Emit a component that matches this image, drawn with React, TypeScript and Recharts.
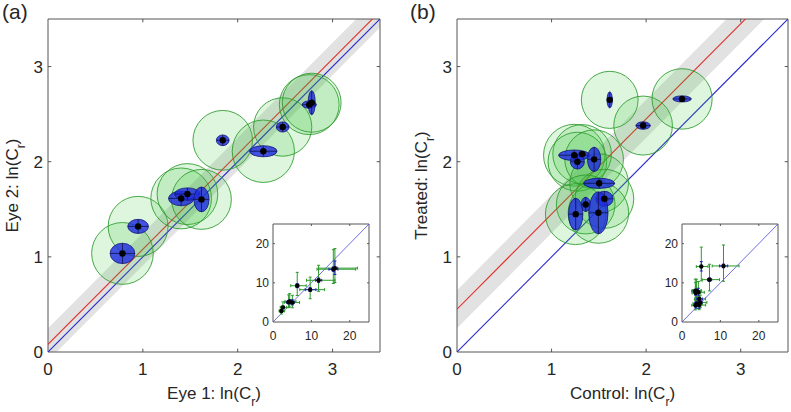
import React from 'react';
import {
  ComposedChart,
  Scatter,
  Line,
  Area,
  XAxis,
  YAxis,
  ReferenceLine,
  ReferenceArea,
  ErrorBar,
} from 'recharts';

const FONT = '"Liberation Sans", Arial, Helvetica, sans-serif';
const TEXT = '#262626';
const AXIS = '#555555';
const GREEN_FILL = '#30c030';
const GREEN_LINE = '#2a9a2a';
const BLUE_FILL = '#1e2de0';
const RED = '#e0302a';
const BLUE = '#2a2ad0';

// ---------- Panel (a): Eye 1 vs Eye 2, ln(C_r) ----------
const aLnX = [0.785, 0.95, 1.404, 1.47, 1.618, 1.842, 2.27, 2.474, 2.754, 2.78];
const aLnY = [1.036, 1.32, 1.614, 1.66, 1.604, 2.225, 2.11, 2.365, 2.6, 2.62];
const aSdX = [0.13, 0.109, 0.133, 0.135, 0.08, 0.067, 0.144, 0.067, 0.075, 0.037];
const aSdY = [0.107, 0.074, 0.077, 0.065, 0.13, 0.056, 0.058, 0.053, 0.039, 0.126];
const aRad = [0.325, 0.316, 0.32, 0.32, 0.315, 0.314, 0.328, 0.307, 0.315, 0.31];
const aFitY = [0.08, 3.58];
const aBandLo = [-0.09, 3.41];
const aBandHi = [0.25, 3.75];

// ---------- Panel (b): Control vs Treated, ln(C_r) ----------
const bLnX = [1.615, 1.968, 2.38, 1.24, 1.323, 1.273, 1.45, 1.503, 1.559, 1.361, 1.255, 1.495];
const bLnY = [2.65, 2.38, 2.66, 2.068, 2.08, 2.0, 2.025, 1.773, 1.61, 1.551, 1.449, 1.463];
const bSdX = [0.028, 0.076, 0.097, 0.165, 0.035, 0.074, 0.07, 0.164, 0.092, 0.049, 0.076, 0.102];
const bSdY = [0.084, 0.039, 0.032, 0.055, 0.03, 0.077, 0.128, 0.053, 0.079, 0.075, 0.167, 0.22];
const bRad = [0.3, 0.31, 0.318, 0.325, 0.31, 0.31, 0.31, 0.31, 0.31, 0.31, 0.32, 0.32];
const bFitY = [0.45, 3.95];
const bBandLo = [0.25, 3.75];
const bBandHi = [0.65, 4.15];

const fitX = [0, 3.5];
const mainDomain = [0, 3.5];
const mainTicks = [0, 1, 2, 3];
const insetDomain = [0, 25];
const insetTicks = [0, 10, 20];

function tickMarks(ticks: number[], max: number, len: number, prefix: string) {
  const out: React.ReactNode[] = [];
  ticks
    .filter((t) => t > 0)
    .forEach((t) => {
      out.push(
        <ReferenceLine key={prefix + 'b' + t} segment={[{ x: t, y: 0 }, { x: t, y: len }]} stroke={AXIS} strokeWidth={1} />,
        <ReferenceLine key={prefix + 't' + t} segment={[{ x: t, y: max }, { x: t, y: max - len }]} stroke={AXIS} strokeWidth={1} />,
        <ReferenceLine key={prefix + 'l' + t} segment={[{ x: 0, y: t }, { x: len, y: t }]} stroke={AXIS} strokeWidth={1} />,
        <ReferenceLine key={prefix + 'r' + t} segment={[{ x: max, y: t }, { x: max - len, y: t }]} stroke={AXIS} strokeWidth={1} />
      );
    });
  return out;
}

type PanelProps = {
  left: number;
  width: number;
  right: number;
  lnX: number[];
  lnY: number[];
  sdX: number[];
  sdY: number[];
  rad: number[];
  fitY: number[];
  bandLo: number[];
  bandHi: number[];
};

const H = 412;
const TOP = 19;
const XH = 60;
const YW = 48;

function Panel({ left, width, right, lnX, lnY, sdX, sdY, rad, fitY, bandLo, bandHi }: PanelProps) {
  const plotW = width - YW - right;
  const plotH = H - TOP - XH;
  const kx = plotW / (mainDomain[1] - mainDomain[0]);
  const ky = plotH / (mainDomain[1] - mainDomain[0]);
  const pts = lnX.map((x, i) => ({ x, y: lnY[i], sx: sdX[i], sy: sdY[i], r: rad[i] }));
  const band = fitX.map((x, i) => ({ x, band: [bandLo[i], bandHi[i]] }));
  const fit = fitX.map((x, i) => ({ x, y: fitY[i] }));
  const ident = fitX.map((x) => ({ x, y: x }));

  const circleShape = (p: any) => {
    const { cx, cy, payload } = p;
    if (cx == null || cy == null) return <g />;
    return (
      <ellipse
        cx={cx}
        cy={cy}
        rx={payload.r * kx}
        ry={payload.r * ky}
        fill={GREEN_FILL}
        fillOpacity={0.16}
        stroke={GREEN_LINE}
        strokeOpacity={0.85}
        strokeWidth={1}
      />
    );
  };
  const ellipseShape = (p: any) => {
    const { cx, cy, payload } = p;
    if (cx == null || cy == null) return <g />;
    const rx = payload.sx * kx;
    const ry = payload.sy * ky;
    return (
      <g>
        <ellipse cx={cx} cy={cy} rx={rx} ry={ry} fill={BLUE_FILL} fillOpacity={0.82} stroke="#14147a" strokeWidth={0.8} />
        <line x1={cx - rx} x2={cx + rx} y1={cy} y2={cy} stroke="#10104a" strokeWidth={0.8} />
        <line x1={cx} x2={cx} y1={cy - ry} y2={cy + ry} stroke="#10104a" strokeWidth={0.8} />
      </g>
    );
  };
  const dotShape = (p: any) => {
    const { cx, cy } = p;
    if (cx == null || cy == null) return <g />;
    return <circle cx={cx} cy={cy} r={3.2} fill="#000" />;
  };

  return (
    <div style={{ position: 'absolute', left, top: 0 }}>
      <ComposedChart width={width} height={H} margin={{ top: TOP, right, bottom: 0, left: 0 }}>
        <XAxis
          type="number"
          dataKey="x"
          domain={mainDomain}
          ticks={mainTicks}
          allowDataOverflow
          height={XH}
          tickLine={false}
          axisLine={false}
          tickSize={0}
          tickMargin={11}
          tick={{ fontSize: 17, fill: TEXT, fontFamily: FONT }}
        />
        <YAxis
          type="number"
          dataKey="y"
          domain={mainDomain}
          ticks={mainTicks}
          allowDataOverflow
          width={YW}
          tickLine={false}
          axisLine={false}
          tickSize={0}
          tickMargin={5}
          tick={{ fontSize: 17, fill: TEXT, fontFamily: FONT }}
        />
        <Area data={band} dataKey="band" stroke="none" fill="#e2e2e2" fillOpacity={1} isAnimationActive={false} dot={false} activeDot={false} />
        <Line data={fit} dataKey="y" stroke={RED} strokeWidth={1.1} dot={false} activeDot={false} isAnimationActive={false} />
        <Line data={ident} dataKey="y" stroke={BLUE} strokeWidth={1.1} dot={false} activeDot={false} isAnimationActive={false} />
        <Scatter data={pts} shape={circleShape} isAnimationActive={false} />
        <Scatter data={pts} shape={ellipseShape} isAnimationActive={false} />
        <Scatter data={pts} shape={dotShape} isAnimationActive={false} />
        <ReferenceArea x1={0} x2={3.5} y1={0} y2={3.5} fill="none" fillOpacity={0} stroke={AXIS} strokeWidth={1} />
        {tickMarks(mainTicks, 3.5, 0.035, 'm')}
      </ComposedChart>
    </div>
  );
}

type InsetProps = { left: number; lnX: number[]; lnY: number[]; sdX: number[]; sdY: number[]; rad: number[] };

function Inset({ left, lnX, lnY, sdX, sdY, rad }: InsetProps) {
  const data = lnX.map((lx, i) => {
    const ly = lnY[i];
    const x = Math.exp(lx);
    const y = Math.exp(ly);
    return {
      x,
      y,
      gx: [x - Math.exp(lx - rad[i]), Math.exp(lx + rad[i]) - x],
      gy: [y - Math.exp(ly - rad[i]), Math.exp(ly + rad[i]) - y],
      bx: [x - Math.exp(lx - sdX[i]), Math.exp(lx + sdX[i]) - x],
      by: [y - Math.exp(ly - sdY[i]), Math.exp(ly + sdY[i]) - y],
    };
  });
  const ident = insetDomain.map((v) => ({ x: v, y: v }));
  const none = () => <g />;
  const dot = (p: any) => (p.cx == null ? <g /> : <circle cx={p.cx} cy={p.cy} r={2.2} fill="#000" />);
  return (
    <div style={{ position: 'absolute', left, top: 220 }}>
      <ComposedChart width={130} height={124} margin={{ top: 4, right: 4, bottom: 0, left: 0 }}>
        <XAxis
          type="number"
          dataKey="x"
          domain={insetDomain}
          ticks={insetTicks}
          allowDataOverflow
          height={22}
          tickLine={false}
          axisLine={false}
          tickSize={0}
          tickMargin={9}
          tick={{ fontSize: 12, fill: TEXT, fontFamily: FONT }}
        />
        <YAxis
          type="number"
          dataKey="y"
          domain={insetDomain}
          ticks={insetTicks}
          allowDataOverflow
          width={30}
          tickLine={false}
          axisLine={false}
          tickSize={0}
          tickMargin={4}
          tick={{ fontSize: 12, fill: TEXT, fontFamily: FONT }}
        />
        <ReferenceArea x1={0} x2={25} y1={0} y2={25} fill="#ffffff" fillOpacity={1} stroke={AXIS} strokeWidth={1} />
        <Line data={ident} dataKey="y" stroke="#4a4ae0" strokeWidth={0.8} dot={false} activeDot={false} isAnimationActive={false} />
        <Scatter data={data} shape={none} isAnimationActive={false}>
          <ErrorBar dataKey="gx" direction="x" stroke={GREEN_LINE} strokeWidth={1} width={1.5} isAnimationActive={false} />
          <ErrorBar dataKey="gy" direction="y" stroke={GREEN_LINE} strokeWidth={1} width={1.5} isAnimationActive={false} />
        </Scatter>
        <Scatter data={data} shape={dot} isAnimationActive={false}>
          <ErrorBar dataKey="bx" direction="x" stroke="#2020c0" strokeWidth={1} width={1.5} isAnimationActive={false} />
          <ErrorBar dataKey="by" direction="y" stroke="#2020c0" strokeWidth={1} width={1.5} isAnimationActive={false} />
        </Scatter>
        {tickMarks(insetTicks, 25, 0.5, 'i')}
      </ComposedChart>
    </div>
  );
}

function Labels() {
  const lnLabel = (prefix: string) => [
    <tspan key="a">{prefix + ' ln(C'}</tspan>,
    <tspan key="b" fontSize={12} dy={7}>
      r
    </tspan>,
    <tspan key="c" dy={-7}>
      )
    </tspan>,
  ];
  return (
    <svg width={791} height={412} style={{ position: 'absolute', left: 0, top: 0, pointerEvents: 'none' }}>
      <g fontFamily={FONT} fill={TEXT}>
        <text x={2} y={19} fontSize={21}>
          (a)
        </text>
        <text x={410} y={19} fontSize={21}>
          (b)
        </text>
        <text x={214} y={399} fontSize={17} textAnchor="middle">
          {lnLabel('Eye 1:')}
        </text>
        <text x={622.5} y={399} fontSize={17} textAnchor="middle">
          {lnLabel('Control:')}
        </text>
        <text transform="translate(18,185.5) rotate(-90)" fontSize={17} textAnchor="middle">
          {lnLabel('Eye 2:')}
        </text>
        <text transform="translate(427,185.5) rotate(-90)" fontSize={17} textAnchor="middle">
          {lnLabel('Treated:')}
        </text>
      </g>
    </svg>
  );
}

export default function App() {
  return (
    <div style={{ position: 'absolute', left: 0, top: 0, width: 791, height: 412, background: '#fff', overflow: 'hidden' }}>
      <Panel left={0} width={395} right={15} lnX={aLnX} lnY={aLnY} sdX={aSdX} sdY={aSdY} rad={aRad} fitY={aFitY} bandLo={aBandLo} bandHi={aBandHi} />
      <Panel left={409} width={382} right={3} lnX={bLnX} lnY={bLnY} sdX={bSdX} sdY={bSdY} rad={bRad} fitY={bFitY} bandLo={bBandLo} bandHi={bBandHi} />
      <Inset left={243} lnX={aLnX} lnY={aLnY} sdX={aSdX} sdY={aSdY} rad={aRad} />
      <Inset left={652} lnX={bLnX} lnY={bLnY} sdX={bSdX} sdY={bSdY} rad={bRad} />
      <Labels />
    </div>
  );
}
